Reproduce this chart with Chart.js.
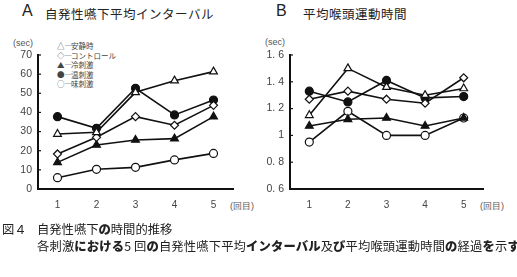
<!DOCTYPE html>
<html lang="ja">
<head>
<meta charset="UTF-8" />
<title>図4 自発性嚥下の時間的推移</title>
<script src="https://cdn.jsdelivr.net/npm/chart.js@4.4.0/dist/chart.umd.min.js"></script>
<style>
  body { margin: 0; background: #fff; font-family: "Noto Sans CJK JP", sans-serif; color: #222; }
  #wrap { position: relative; width: 517px; height: 277px; overflow: hidden; }
  .abs { position: absolute; white-space: nowrap; }
  .panel { font-size: 16px; font-family: "Liberation Sans", sans-serif; }
  .ttl { font-size: 12.5px; letter-spacing: 0.5px; }
  .unit { font-size: 9px; color: #555; font-family: "Liberation Sans", sans-serif; }
  .leg { font-size: 7.5px; color: #444; line-height: 9.5px; }
  .cap { font-size: 12.3px; color: #222; }
  .cap b { font-weight: 900; }
  canvas { position: absolute; }
</style>
</head>
<body>
<div id="wrap">
  <div class="abs panel" style="left:22px;top:2px;">A</div>
  <div class="abs ttl" style="left:45px;top:4px;">自発性嚥下平均インターバル</div>
  <div class="abs panel" style="left:276px;top:2px;">B</div>
  <div class="abs ttl" style="left:303px;top:4px;">平均喉頭運動時間</div>

  <div class="abs unit" style="left:13px;top:38px;">(sec)</div>
  <div class="abs unit" style="left:265px;top:37px;">(sec)</div>
  <div class="abs unit" style="left:230px;top:200px;">(回目)</div>
  <div class="abs unit" style="left:480px;top:200px;">(回目)</div>

  <div class="abs leg" id="legend" style="left:57px;top:41px;"></div>

  <canvas id="chartA" width="252" height="225" style="left:0;top:0;"></canvas>
  <canvas id="chartB" width="265" height="225" style="left:252px;top:0;"></canvas>

  <div class="abs cap" style="left:2px;top:220px;">図４</div>
  <div class="abs cap" style="left:37px;top:220px;">自発性嚥下<b>の</b>時間的推移</div>
  <div class="abs cap" style="left:37px;top:237px;letter-spacing:0.15px;">各刺激<b>における</b>5 回<b>の</b>自発性嚥下平均<b>インターバル</b>及<b>び</b>平均喉頭運動時間<b>の</b>経過<b>を</b>示<b>す</b></div>
</div>

<script>
  const sessions = ['1', '2', '3', '4', '5'];
  const seriesNames = ['安静時', 'コントロール', '冷刺激', '温刺激', '味刺激'];
  const legendMarks = ['△', '◇', '▲', '●', '○'];

  // A: 自発性嚥下平均インターバル (sec)
  const intervalRest    = [28.7, 29.6, 50.5, 56.6, 61.3];
  const intervalControl = [18.3, 27.0, 37.8, 33.3, 43.7];
  const intervalCold    = [13.9, 23.0, 25.6, 26.3, 37.8];
  const intervalWarm    = [37.8, 31.7, 52.6, 38.7, 46.5];
  const intervalTaste   = [5.9, 10.3, 11.3, 15.2, 18.6];

  // B: 平均喉頭運動時間 (sec)
  const laryRest    = [1.15, 1.50, 1.36, 1.30, 1.35];
  const laryControl = [1.27, 1.33, 1.27, 1.24, 1.43];
  const laryCold    = [1.07, 1.12, 1.13, 1.07, 1.13];
  const laryWarm    = [1.33, 1.25, 1.41, 1.28, 1.29];
  const laryTaste   = [0.95, 1.18, 1.00, 1.00, 1.13];

  const markStyles = [
    { pointStyle: 'triangle', fill: '#fff', r: 4.5 },
    { pointStyle: 'rectRot',  fill: '#fff', r: 4 },
    { pointStyle: 'triangle', fill: '#111', r: 4.5 },
    { pointStyle: 'circle',   fill: '#111', r: 4 },
    { pointStyle: 'circle',   fill: '#fff', r: 4 }
  ];

  document.getElementById('legend').innerHTML =
    legendMarks.map((m, i) => `<div>${m}<span style="letter-spacing:-1px">—</span>${seriesNames[i]}</div>`).join('');

  function makeDatasets(lists) {
    return lists.map((data, i) => ({
      label: seriesNames[i],
      data: data,
      borderColor: '#111',
      borderWidth: 1.6,
      pointStyle: markStyles[i].pointStyle,
      pointRadius: markStyles[i].r,
      pointBackgroundColor: markStyles[i].fill,
      pointBorderColor: '#111',
      pointBorderWidth: 1.2,
      tension: 0,
      fill: false
    }));
  }

  // small inward ticks on the y axis
  const innerTicks = {
    id: 'innerTicks',
    afterDraw(chart) {
      const y = chart.scales.y, ctx = chart.ctx;
      ctx.save();
      ctx.strokeStyle = '#111';
      ctx.lineWidth = 1.2;
      y.ticks.forEach(t => {
        const py = y.getPixelForValue(t.value);
        ctx.beginPath();
        ctx.moveTo(y.right, py);
        ctx.lineTo(y.right + 3, py);
        ctx.stroke();
      });
      ctx.restore();
    }
  };

  function makeChart(id, lists, yMin, yMax, step, fmt, rightPad) {
    return new Chart(document.getElementById(id), {
      type: 'line',
      data: { labels: sessions, datasets: makeDatasets(lists) },
      plugins: [innerTicks],
      options: {
        responsive: false,
        animation: false,
        layout: { padding: { top: 55, right: rightPad, bottom: 0, left: 0 } },
        plugins: { legend: { display: false }, tooltip: { enabled: false } },
        scales: {
          x: {
            offset: true,
            grid: { display: false, drawTicks: false },
            border: { display: true, color: '#111', width: 2 },
            ticks: { padding: 10, color: '#444', font: { family: 'Liberation Sans', size: 10 } },
            afterFit: s => { s.height = 36; }
          },
          y: {
            min: yMin, max: yMax,
            grid: { display: false, drawTicks: false },
            border: { display: true, color: '#111', width: 2 },
            ticks: {
              stepSize: step, padding: 6, color: '#444',
              font: { family: 'Liberation Sans', size: 10.5 },
              callback: fmt
            },
            afterFit: s => { s.width = 38; }
          }
        }
      }
    });
  }

  makeChart('chartA',
    [intervalRest, intervalControl, intervalCold, intervalWarm, intervalTaste],
    0, 70, 10, v => v, 19);

  makeChart('chartB',
    [laryRest, laryControl, laryCold, laryWarm, laryTaste],
    0.6, 1.6, 0.2,
    v => Math.abs(v - 1) < 1e-6 ? '1' : v.toFixed(1).replace('.', '. '), 34);
</script>
</body>
</html>
